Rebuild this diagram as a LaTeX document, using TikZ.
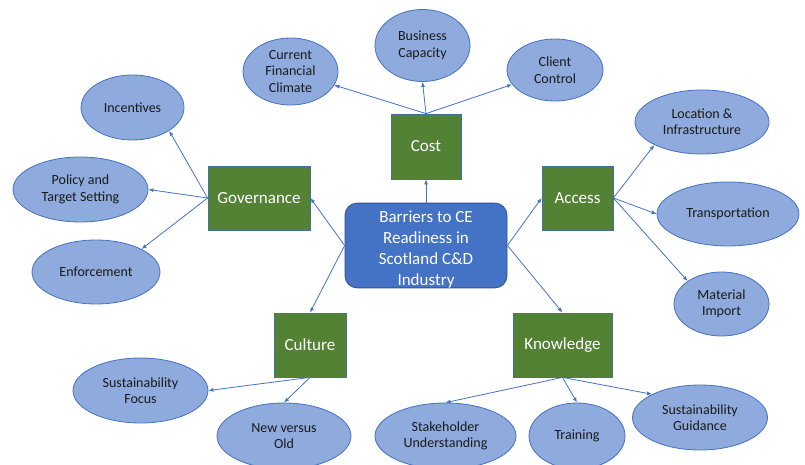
\documentclass[tikz,border=0pt]{standalone}
\usepackage{fontspec}
\setmainfont{Carlito}
\usepackage{tikz}
\usetikzlibrary{arrows.meta,shapes.geometric}
\definecolor{hubfill}{HTML}{4472C4}
\definecolor{hubedge}{HTML}{2F528F}
\definecolor{boxgreen}{HTML}{548235}
\definecolor{boxedge}{HTML}{41719C}
\definecolor{leaffill}{HTML}{8FAADC}
\definecolor{leafedge}{HTML}{4472C4}
\definecolor{leaftext}{HTML}{1A1A1A}
\definecolor{arrowblue}{HTML}{4472C4}
\tikzstyle{hub}=[rectangle,rounded corners=12pt,fill=hubfill,draw=hubedge,text=white,align=center,inner sep=0pt,minimum width=162pt,minimum height=81pt,font=\fontsize{17}{21}\selectfont]
\tikzstyle{topic}=[rectangle,fill=boxgreen,draw=boxedge,text=white,inner sep=0pt,minimum height=64pt,font=\fontsize{17}{21}\selectfont]
\tikzstyle{leaf}=[ellipse,fill=leaffill,draw=leafedge,text=leaftext,align=center,inner sep=0pt,minimum height=64pt,font=\fontsize{14}{16.4}\selectfont]
\tikzset{every picture/.style={line width=0.8pt}}

\begin{document}
\begin{tikzpicture}[x=1pt,y=-1pt]
\useasboundingbox (0,0) rectangle (805,465);
\node[hub] (B) at (426,245.5) {\rule{0pt}{19pt}Barriers to CE\\Readiness in\\Scotland C\&D\\Industry};
\node[topic,minimum width=70pt,minimum height=65pt] (C) at (426,146.5) {Cost};
\node[topic,minimum width=102pt] (G) at (259,198) {Governance};
\node[topic,minimum width=71pt] (A) at (577.5,198) {Access};
\node[topic,minimum width=72pt] (Cu) at (310,345) {Culture};
\node[topic,minimum width=99pt] (K) at (562.5,345) {Knowledge};
% cost
\node[leaf,minimum width=95pt,minimum height=67pt] (C1) at (290.5,71.5) {Current\\Financial\\Climate};
\node[leaf,minimum width=95pt,minimum height=72pt] (C2) at (422.5,45.5) {Business\\Capacity};
\node[leaf,minimum width=96pt,minimum height=62pt] (C3) at (555,70) {Client\\Control};
% governance
\node[leaf,minimum width=103pt,minimum height=65pt] (G1) at (132.5,107.5) {Incentives};
\node[leaf,minimum width=135pt,minimum height=65pt] (G2) at (80.5,189.5) {Policy and\\Target Setting};
\node[leaf,minimum width=128pt] (G3) at (96,272) {Enforcement};
% access
\node[leaf,minimum width=134pt] (A1) at (702,122) {Location \&\\Infrastructure};
\node[leaf,minimum width=142pt] (A2) at (728,214) {Transportation};
\node[leaf,minimum width=95pt] (A3) at (721.5,304) {Material\\Import};
% culture
\node[leaf,minimum width=135pt,minimum height=65pt] (Cu1) at (140.5,390.5) {Sustainability\\Focus};
\node[leaf,minimum width=134pt,minimum height=66pt] (Cu2) at (284,436) {New versus\\Old};
% knowledge
\node[leaf,minimum width=141pt,minimum height=66pt] (K1) at (445.5,436) {Stakeholder\\Understanding};
\node[leaf,minimum width=96pt,minimum height=66pt] (K2) at (577,436) {Training};
\node[leaf,minimum width=135pt,minimum height=65pt] (K3) at (700,417.5) {Sustainability\\Guidance};
\path[->,color=arrowblue,>={Latex[length=5pt,width=4pt]}]
(B.north) edge (C.south)
(B.west) edge (G.east)
(B.west) edge (Cu.north)
(B.east) edge (A.west)
(B.east) edge (K.north)
(C.north) edge (C1)
(C.north) edge (C2.south)
(C.north) edge (C3)
(G.west) edge (G1.south east)
(G.west) edge (G2.east)
(G.west) edge (G3.north east)
(A.east) edge (A1.south west)
(A.east) edge (A2.west)
(A.east) edge (A3.north west)
(Cu.south) edge (Cu1.east)
(Cu.south) edge (Cu2.north)
(K.south) edge (K1.north)
(K.south) edge (K2.north)
(K.south) edge (K3.north west);
\end{tikzpicture}
\end{document}
